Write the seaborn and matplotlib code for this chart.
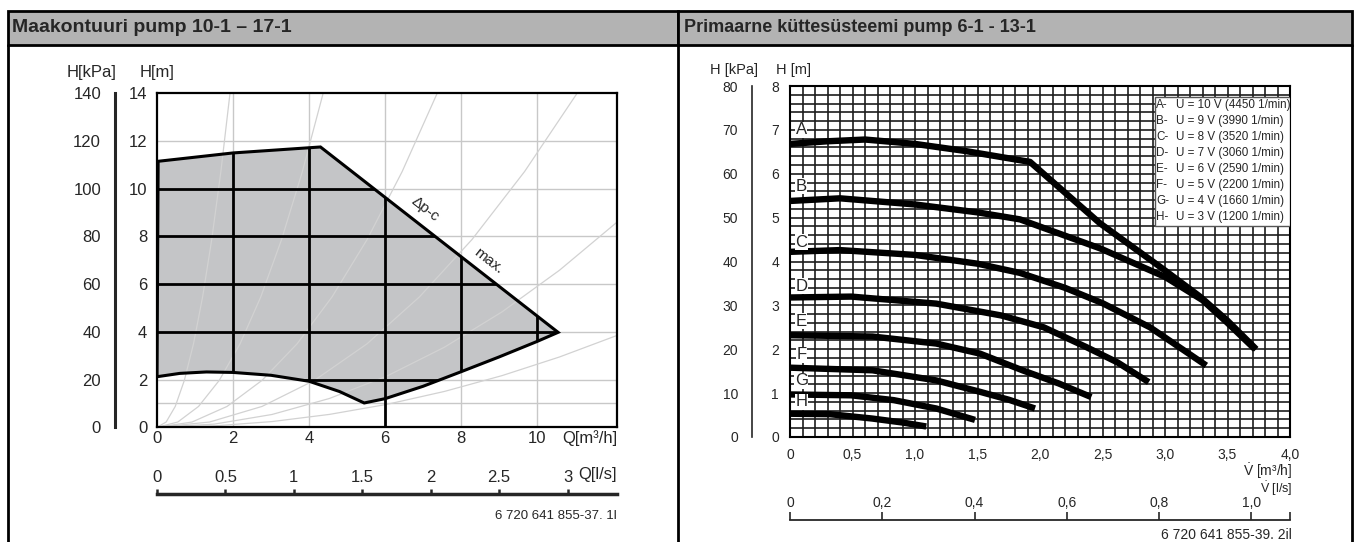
import numpy as np
import pandas as pd
import matplotlib
matplotlib.use("Agg")
import matplotlib.pyplot as plt
import seaborn as sns
from matplotlib.patches import Rectangle, Polygon

# ---------------- data ----------------
# Left chart (ground circuit pump) - operating envelope, Q [m3/h], H [m]
env_q = [0.0, 0.03, 2.0, 4.3, 10.55, 10.0, 9.0, 8.0, 7.0, 6.0, 5.45, 4.8, 4.0, 3.0, 2.0, 1.3, 0.6, 0.0]
env_h = [2.12, 11.15, 11.5, 11.75, 3.98, 3.6, 2.95, 2.33, 1.72, 1.2, 1.02, 1.5, 1.93, 2.18, 2.3, 2.32, 2.26, 2.12]

# system curves (grey)
sys_curves = {
    "c1": ([0, 0.24, 0.48, 0.72, 0.96, 1.2, 1.44, 1.68, 1.92],
           [0, 0.22, 0.875, 1.97, 3.5, 5.47, 7.875, 10.72, 14]),
    "c2": ([0, 0.546, 1.093, 1.639, 2.185, 2.731, 3.278, 3.824, 4.37],
           [0, 0.22, 0.875, 1.97, 3.5, 5.47, 7.875, 10.72, 14]),
    "c3": ([0, 0.921, 1.843, 2.764, 3.685, 4.606, 5.528, 6.449, 7.37],
           [0, 0.22, 0.875, 1.97, 3.5, 5.47, 7.875, 10.72, 14]),
    "c4": ([0, 1.381, 2.763, 4.144, 5.525, 6.906, 8.288, 9.669, 11.05],
           [0, 0.22, 0.875, 1.97, 3.5, 5.47, 7.875, 10.72, 14]),
    "c5": ([0, 1.5125, 3.025, 4.5375, 6.05, 7.5625, 9.075, 10.5875, 12.1],
           [0, 0.134, 0.5375, 1.209, 2.15, 3.359, 4.8375, 6.584, 8.6]),
    "c6": ([0, 1.5125, 3.025, 4.5375, 6.05, 7.5625, 9.075, 10.5875, 12.1],
           [0, 0.06, 0.24, 0.541, 0.9625, 1.504, 2.166, 2.948, 3.85]),
}

left_xticks = [0, 2, 4, 6, 8, 10]
left_yticks_m = [0, 2, 4, 6, 8, 10, 12, 14]
left_yticks_kpa = [0, 20, 40, 60, 80, 100, 120, 140]
left_ls_ticks = [0, 0.5, 1, 1.5, 2, 2.5, 3]
left_ls_labels = ["0", "0.5", "1", "1.5", "2", "2.5", "3"]

# Right chart (primary heating pump) - speed curves
pump_curves = {
    "A": ([0, 0.3, 0.6, 1.0, 1.4, 1.92, 2.48, 2.96, 3.28, 3.5, 3.73],
          [6.68, 6.74, 6.78, 6.68, 6.52, 6.27, 4.87, 3.88, 3.2, 2.65, 2.0]),
    "B": ([0, 0.4, 1.0, 1.5, 1.84, 2.48, 3.0, 3.3, 3.5, 3.72],
          [5.38, 5.44, 5.3, 5.12, 4.96, 4.3, 3.65, 3.12, 2.6, 2.0]),
    "C": ([0, 0.4, 1.0, 1.5, 1.84, 2.2, 2.5, 2.88, 3.33],
          [4.22, 4.26, 4.15, 3.95, 3.74, 3.4, 3.05, 2.5, 1.63]),
    "D": ([0, 0.49, 1.17, 1.69, 2.03, 2.37, 2.62, 2.87],
          [3.18, 3.2, 3.04, 2.77, 2.5, 2.05, 1.7, 1.25]),
    "E": ([0, 0.66, 1.17, 1.52, 1.86, 2.15, 2.41],
          [2.32, 2.29, 2.13, 1.9, 1.52, 1.22, 0.91]),
    "F": ([0, 0.66, 1.17, 1.52, 1.75, 1.96],
          [1.58, 1.52, 1.29, 1.03, 0.85, 0.65]),
    "G": ([0, 0.49, 0.83, 1.17, 1.48],
          [0.97, 0.95, 0.84, 0.65, 0.39]),
    "H": ([0, 0.32, 0.66, 0.9, 1.09],
          [0.53, 0.52, 0.42, 0.33, 0.24]),
}
letter_y = [7.0, 5.72, 4.44, 3.44, 2.64, 1.87, 1.28, 0.8]
legend_lines = [
    ("A-", "U = 10 V (4450 1/min)"),
    ("B-", "U = 9 V (3990 1/min)"),
    ("C-", "U = 8 V (3520 1/min)"),
    ("D-", "U = 7 V (3060 1/min)"),
    ("E-", "U = 6 V (2590 1/min)"),
    ("F-", "U = 5 V (2200 1/min)"),
    ("G-", "U = 4 V (1660 1/min)"),
    ("H-", "U = 3 V (1200 1/min)"),
]
right_xticks = [0, 0.5, 1.0, 1.5, 2.0, 2.5, 3.0, 3.5, 4.0]
right_xlabels = ["0", "0,5", "1,0", "1,5", "2,0", "2,5", "3,0", "3,5", "4,0"]
right_yticks_m = [0, 1, 2, 3, 4, 5, 6, 7, 8]
right_yticks_kpa = [0, 10, 20, 30, 40, 50, 60, 70, 80]
right_ls_ticks = [0, 0.2, 0.4, 0.6, 0.8, 1.0]
right_ls_labels = ["0", "0,2", "0,4", "0,6", "0,8", "1,0"]

# ---------------- style ----------------
sns.set_style("white")
plt.rcParams["font.family"] = ["Liberation Sans", "DejaVu Sans"]
plt.rcParams["axes.linewidth"] = 1.5
plt.rcParams["mathtext.fontset"] = "custom"
plt.rcParams["mathtext.rm"] = "Liberation Sans"
plt.rcParams["mathtext.it"] = "Liberation Sans:italic"
VDOT = r"$\dot{\mathrm{V}}$"

W, H = 1355, 542
fig = plt.figure(figsize=(W / 100, H / 100), dpi=100)


def rect(x0, y0, x1, y1):
    return [x0 / W, 1 - y1 / H, (x1 - x0) / W, (y1 - y0) / H]


# background / frames
bg = fig.add_axes([0, 0, 1, 1])
bg.set_xlim(0, W)
bg.set_ylim(H, 0)
bg.axis("off")
for x0, x1 in [(8, 678), (678, 1352)]:
    bg.add_patch(Rectangle((x0, 11), x1 - x0, 34, fc="#b3b3b3", ec="black", lw=2))
for x in [8, 678, 1352]:
    bg.plot([x, x], [45, H], color="black", lw=2)
bg.text(12, 28, "Maakontuuri pump 10-1 – 17-1", fontsize=14, fontweight="bold",
        va="center", ha="left")
bg.text(684, 28, "Primaarne küttesüsteemi pump 6-1 - 13-1", fontsize=13,
        fontweight="bold", va="center", ha="left")

# ================= LEFT CHART =================
fs_l = 12
axL = fig.add_axes(rect(157, 93.3, 617, 427.3))
axL.set_xlim(0, 12.1)
axL.set_ylim(0, 14)
for x in left_xticks[1:]:
    axL.axvline(x, color="#c8c8c8", lw=1, zorder=0.5)
for y in [1, 2, 4, 6, 8, 10, 12]:
    axL.axhline(y, color="#c8c8c8", lw=1, zorder=0.5)

poly = Polygon(np.column_stack([env_q, env_h]), closed=True, fc="#c4c5c7",
               ec="none", zorder=1)
axL.add_patch(poly)

sys_df = pd.concat([pd.DataFrame({"Q": q, "H": h, "curve": k})
                    for k, (q, h) in sys_curves.items()])
sns.lineplot(data=sys_df, x="Q", y="H", units="curve", estimator=None,
             color="#d2d2d2", lw=0.9, ax=axL, sort=False, zorder=2)

for x in [2, 4, 6, 8, 10]:
    ln = axL.axvline(x, color="black", lw=2, zorder=3)
    ln.set_clip_path(poly)
for y in [2, 4, 6, 8, 10]:
    ln = axL.axhline(y, color="black", lw=2, zorder=3)
    ln.set_clip_path(poly)
axL.plot([6, 6], [0, 1.2], color="black", lw=2, zorder=3)
axL.add_patch(Polygon(np.column_stack([env_q, env_h]), closed=True, fill=False,
                      ec="black", lw=2.2, zorder=4, joinstyle="miter"))
axL.text(7.05, 9.16, "Δp-c", rotation=-38, ha="center", va="center", fontsize=11)
axL.text(8.71, 6.99, "max.", rotation=-38, ha="center", va="center", fontsize=11)

axL.set_xticks(left_xticks)
axL.set_yticks(left_yticks_m)
axL.tick_params(axis="x", length=0, pad=3, labelsize=fs_l)
axL.tick_params(axis="y", length=5, width=1.2, pad=2, labelsize=fs_l)
axL.set_xlabel("")
axL.set_ylabel("")
for s in axL.spines.values():
    s.set_color("black")
    s.set_linewidth(1.6)

# kPa axis
axK = fig.add_axes(rect(115, 93.3, 116, 427.3))
axK.set_ylim(0, 140)
axK.set_yticks(left_yticks_kpa)
axK.set_xticks([])
for k in ["top", "right", "bottom"]:
    axK.spines[k].set_visible(False)
axK.spines["left"].set_linewidth(2.2)
axK.tick_params(axis="y", length=6, width=1.8, pad=4, labelsize=fs_l)
axK.patch.set_alpha(0)

# l/s axis
axQ = fig.add_axes(rect(157, 494, 617, 495))
axQ.set_xlim(0, 12.1 / 3.6)
axQ.set_yticks([])
axQ.xaxis.set_ticks_position("top")
axQ.set_xticks(left_ls_ticks)
axQ.set_xticklabels(left_ls_labels)
for k in ["bottom", "left", "right"]:
    axQ.spines[k].set_visible(False)
axQ.spines["top"].set_linewidth(2.5)
axQ.tick_params(axis="x", direction="out", length=3.5, width=1.8, pad=3, labelsize=fs_l)
axQ.patch.set_alpha(0)

bg.text(92, 72, "H[kPa]", fontsize=fs_l, ha="center", va="center")
bg.text(157, 72, "H[m]", fontsize=fs_l, ha="center", va="center")
bg.text(617, 438, "Q[m³/h]", fontsize=fs_l, ha="right", va="center")
bg.text(617, 475, "Q[l/s]", fontsize=fs_l, ha="right", va="center")
bg.text(617, 516, "6 720 641 855-37. 1l", fontsize=9.5, ha="right", va="center")

# ================= RIGHT CHART =================
fs_r = 10
axR = fig.add_axes(rect(790, 86, 1290, 437))
axR.set_xlim(0, 4.0)
axR.set_ylim(0, 8)
axR.set_xticks(right_xticks)
axR.set_xticklabels(right_xlabels)
axR.set_yticks(right_yticks_m)
axR.set_xticks(np.arange(0, 4.001, 0.1), minor=True)
axR.set_yticks(np.arange(0, 8.001, 0.2), minor=True)
axR.grid(which="both", color="#1c1c1c", lw=1.2)
axR.set_axisbelow(True)
axR.tick_params(which="minor", length=0)
axR.tick_params(which="major", length=5, width=1, labelsize=fs_r, pad=3)
for s in axR.spines.values():
    s.set_color("black")
    s.set_linewidth(1.5)

pump_df = pd.concat([pd.DataFrame({"Q": q, "H": h, "curve": k})
                     for k, (q, h) in pump_curves.items()])
sns.lineplot(data=pump_df, x="Q", y="H", hue="curve",
             palette=["black"] * len(pump_curves), lw=4.6, ax=axR,
             legend=False, sort=False, estimator=None, zorder=3)
for line in axR.lines:
    line.set_solid_capstyle("butt")
    line.set_solid_joinstyle("round")
axR.set_xlabel("")
axR.set_ylabel("")

for lt, yv in zip(pump_curves.keys(), letter_y):
    axR.text(0.09, yv, lt, fontsize=12, ha="center", va="center", zorder=4,
             bbox=dict(fc="white", ec="none", pad=0.5))

# legend box
axR.add_patch(Rectangle((2.92, 4.81), 1.08, 2.94, fc="white", ec="#555555",
                        lw=1, zorder=5))
row_y = np.linspace(7.56, 5.02, len(legend_lines))
for (a, b), yv in zip(legend_lines, row_y):
    axR.text(2.93, yv, a, fontsize=8.4, ha="left", va="center", zorder=6)
    axR.text(3.085, yv, b, fontsize=8.4, ha="left", va="center", zorder=6)

# kPa axis right
axRK = fig.add_axes(rect(752, 86, 753, 437))
axRK.set_ylim(0, 80)
axRK.set_yticks(right_yticks_kpa)
axRK.set_xticks([])
for k in ["top", "right", "bottom"]:
    axRK.spines[k].set_visible(False)
axRK.spines["left"].set_linewidth(1.2)
axRK.tick_params(axis="y", length=6, width=1, pad=4, labelsize=fs_r)
axRK.patch.set_alpha(0)

# l/s axis right
axRQ = fig.add_axes(rect(790, 520, 1290, 521))
xmax_ls = 4.0 / 3.69
axRQ.set_xlim(0, xmax_ls)
axRQ.set_yticks([])
axRQ.xaxis.set_ticks_position("top")
axRQ.set_xticks(right_ls_ticks + [xmax_ls])
axRQ.set_xticklabels(right_ls_labels + [""])
for k in ["bottom", "left", "right"]:
    axRQ.spines[k].set_visible(False)
axRQ.spines["top"].set_linewidth(1.3)
axRQ.tick_params(axis="x", direction="out", length=6, width=1.2, pad=1.5, labelsize=fs_r)
axRQ.patch.set_alpha(0)

bg.text(734, 70, "H [kPa]", fontsize=10.5, ha="center", va="center")
bg.text(794, 70, "H [m]", fontsize=10.5, ha="center", va="center")
bg.text(1292, 471, VDOT + " [m³/h]", fontsize=fs_r, ha="right", va="center")
bg.text(1292, 489, VDOT + " [l/s]", fontsize=fs_r - 1, ha="right", va="center")
bg.text(1292, 535, "6 720 641 855-39. 2il", fontsize=fs_r, ha="right", va="center")

fig.savefig("out.png", dpi=100)
